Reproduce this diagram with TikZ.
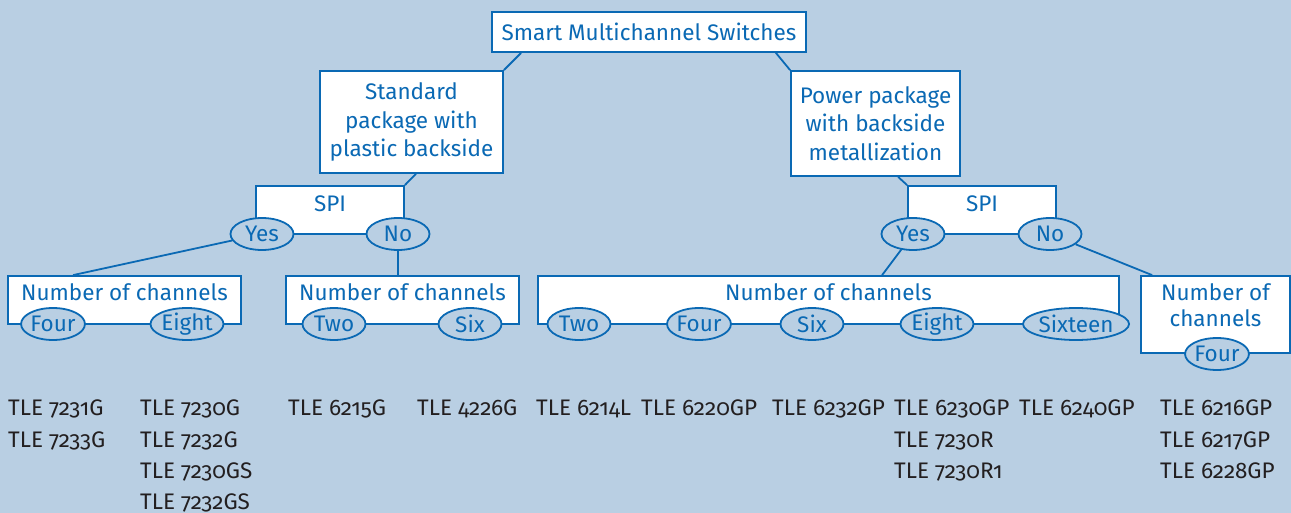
\documentclass[tikz,border=0pt]{standalone}
\usepackage{fontspec}
\setmainfont[Numbers=OldStyle]{Fira Sans}
\usetikzlibrary{shapes.geometric}
\definecolor{bg}{HTML}{B9CFE3}
\definecolor{ifx}{HTML}{0A69B4}
\definecolor{dark}{HTML}{231F20}
\begin{document}
\begin{tikzpicture}[x=1pt,y=-1pt,
  txt/.style={font=\fontsize{22.5}{28.5}\selectfont},
  box/.style={txt, draw=ifx, fill=white, text=ifx, line width=1.8pt, inner sep=0pt, align=center},
  oval/.style={txt, ellipse, draw=ifx, fill=bg, text=ifx, line width=1.8pt, inner sep=0pt, minimum width=63pt, minimum height=32pt},
  part/.style={txt, text=dark, anchor=base west, inner sep=0pt},
  link/.style={draw=ifx, line width=1.8pt}]
\fill[bg] (0,0) rectangle (1291,513);
% boxes
\node[box, minimum width=314pt, minimum height=40pt] (top) at (649,32) {Smart Multichannel Switches};
\node[box, minimum width=183pt, minimum height=102pt] (std) at (411.5,122) {Standard\\package with\\plastic backside};
\node[box, minimum width=169pt, minimum height=105pt] (pwr) at (875.5,123.5) {Power package\\with backside\\metallization};
\node[box, minimum width=148pt, minimum height=48pt, text depth=12pt] (spiL) at (330,210) {SPI};
\node[box, minimum width=148pt, minimum height=48pt, text depth=12pt] (spiR) at (982,210) {SPI};
\node[box, minimum width=233pt, minimum height=48pt, text depth=16pt] (nocA) at (124.5,300) {Number of channels};
\node[box, minimum width=233pt, minimum height=48pt, text depth=16pt] (nocB) at (402.5,300) {Number of channels};
\node[box, minimum width=581pt, minimum height=48pt, text depth=16pt] (nocC) at (828.5,300) {Number of channels};
\node[box, minimum width=149pt, minimum height=77pt, text depth=19pt, font=\fontsize{22.5}{26.5}\selectfont] (nocD) at (1215.5,314.5) {Number of\\channels};
% ovals
\node[oval] (yesL) at (262,234) {Yes};
\node[oval] (noL) at (398,234) {No};
\node[oval] (yesR) at (913,234) {Yes};
\node[oval] (noR) at (1050,234) {No};
\node[oval] (fourA) at (53,324) {Four};
\node[oval, minimum width=73pt] (eightA) at (187,324) {Eight};
\node[oval] (twoB) at (334,324) {Two};
\node[oval] (sixB) at (470,324) {Six};
\node[oval] (twoC) at (579,324) {Two};
\node[oval] (fourC) at (699,324) {Four};
\node[oval] (sixC) at (812,324) {Six};
\node[oval, minimum width=73pt] (eightC) at (937,324) {Eight};
\node[oval, minimum width=104pt] (sixteenC) at (1076,324) {Sixteen};
\node[oval] (fourD) at (1217,354) {Four};
% connectors
\draw[link] ([xshift=30pt]top.south west) -- (std.north east);
\draw[link] ([xshift=-31pt]top.south east) -- (pwr.north west);
\draw[link] ([xshift=-88pt]std.south east) -- (spiL.north east);
\draw[link] ([xshift=108pt]pwr.south west) -- (spiR.north west);
\draw[link] (yesL) -- ([xshift=66pt]nocA.north west);
\draw[link] (noL) -- (noL |- nocB.north);
\draw[link] (yesR) -- ([xshift=345pt]nocC.north west);
\draw[link] (noR) -- ([xshift=12pt]nocD.north west);
% part numbers
\node[part] (p1) at (8,415) {TLE 7231G};
\node[part] (p2) at (8,447) {TLE 7233G};
\node[part] (p3) at (140,415) {TLE 7230G};
\node[part] (p4) at (140,447) {TLE 7232G};
\node[part] (p5) at (140,478) {TLE 7230GS};
\node[part] (p6) at (140,509) {TLE 7232GS};
\node[part] (p7) at (288,415) {TLE 6215G};
\node[part] (p8) at (417,415) {TLE 4226G};
\node[part] (p9) at (536,415) {TLE 6214L};
\node[part] (p10) at (641,415) {TLE 6220GP};
\node[part] (p11) at (772,415) {TLE 6232GP};
\node[part] (p12) at (894,415) {TLE 6230GP};
\node[part] (p13) at (894,447) {TLE 7230R};
\node[part] (p14) at (894,478) {TLE 7230R1};
\node[part] (p15) at (1019,415) {TLE 6240GP};
\node[part] (p16) at (1160,415) {TLE 6216GP};
\node[part] (p17) at (1160,447) {TLE 6217GP};
\node[part] (p18) at (1160,478) {TLE 6228GP};
\end{tikzpicture}
\end{document}
